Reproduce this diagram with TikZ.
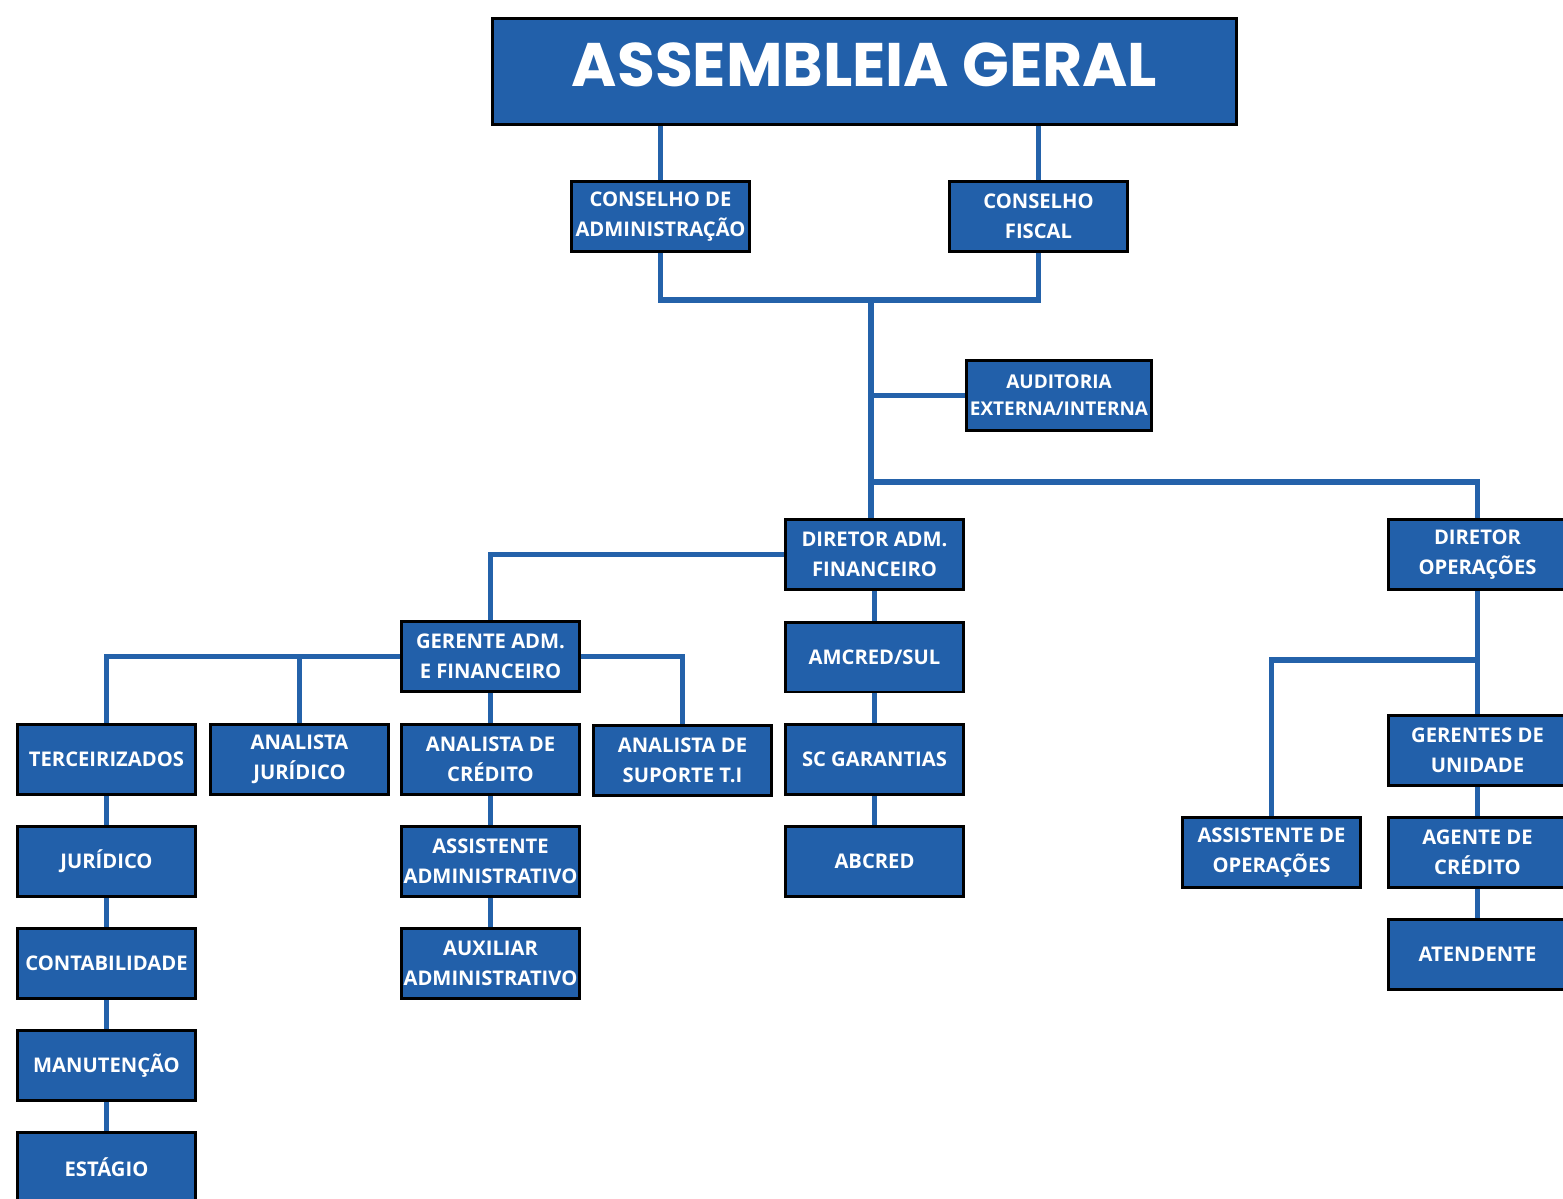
\documentclass[tikz,border=0pt]{standalone}
\usepackage{fontspec}
\setmainfont{Open Sans}
\newfontfamily\titlefont{Poppins}
\usetikzlibrary{positioning,backgrounds}
\definecolor{boxblue}{RGB}{34,96,170}
\definecolor{lineblue}{RGB}{36,98,170}

\begin{document}
\begin{tikzpicture}[x=0.02cm,y=-0.02cm,
    unit/.style={draw=black,line width=1.7pt,fill=boxblue,text=white,align=center,
        font=\bfseries\fontsize{11.5}{16.8}\selectfont,
        minimum width=3.56cm,minimum height=1.40cm,inner sep=1pt},
    link/.style={lineblue,line width=3.4pt}]
    \useasboundingbox (0,0) rectangle (1563,1199);

    % top
    \node[unit,minimum width=14.88cm,minimum height=2.12cm,text depth=8pt,
          font=\titlefont\bfseries\fontsize{35}{40}\selectfont] (asm) at (864.5,71.5) {ASSEMBLEIA GERAL};
    \node[unit] (ca) at (660.5,216.5) {CONSELHO DE\\ADMINISTRAÇÃO};
    \node[unit] (cf) at (1038.5,216.5) {CONSELHO\\FISCAL};
    \node[unit,minimum width=3.70cm,font=\bfseries\fontsize{10.8}{15.5}\selectfont] (aud) at (1059,395.5) {AUDITORIA\\EXTERNA/INTERNA};

    % directors
    \node[unit] (daf) at (874.5,554.5) {DIRETOR ADM.\\FINANCEIRO};
    \node[unit] (dop) at (1477.5,554.5) {DIRETOR\\OPERAÇÕES};

    % adm. side
    \node[unit] (gaf) at (490.5,656.5) {GERENTE ADM.\\E FINANCEIRO};
    \node[unit] (amc) at (874.5,657) {AMCRED/SUL};
    \node[unit] (ter) at (106.5,759.5) {TERCEIRIZADOS};
    \node[unit] (aj)  at (299.5,759.5) {ANALISTA\\JURÍDICO};
    \node[unit] (acr) at (490.5,759.5) {ANALISTA DE\\CRÉDITO};
    \node[unit] (ast) at (682.5,760.5) {ANALISTA DE\\SUPORTE T.I};
    \node[unit] (scg) at (874.5,759.5) {SC GARANTIAS};
    \node[unit] (jur) at (106.5,861.5) {JURÍDICO};
    \node[unit] (asa) at (490.5,861.5) {ASSISTENTE\\ADMINISTRATIVO};
    \node[unit] (abc) at (874.5,861.5) {ABCRED};
    \node[unit] (con) at (106.5,963.5) {CONTABILIDADE};
    \node[unit] (aux) at (490.5,963.5) {AUXILIAR\\ADMINISTRATIVO};
    \node[unit] (man) at (106.5,1065.5) {MANUTENÇÃO};
    \node[unit] (est) at (106.5,1167.5) {ESTÁGIO};

    % operations side
    \node[unit] (gu)  at (1477.5,750.5) {GERENTES DE\\UNIDADE};
    \node[unit] (aso) at (1271.5,852.5) {ASSISTENTE DE\\OPERAÇÕES};
    \node[unit] (agc) at (1477.5,852.5) {AGENTE DE\\CRÉDITO};
    \node[unit] (ate) at (1477.5,954.5) {ATENDENTE};

    \coordinate (hub) at (871,300);
    \coordinate (jop) at (871,482);
    \coordinate (jas) at (1477.5,660);

    \begin{scope}[on background layer]
        \draw[link] (asm.south -| ca.north) -- (ca.north);
        \draw[link] (asm.south -| cf.north) -- (cf.north);
        \draw[link] (ca.south) |- (hub) -| (cf.south);
        \draw[link] (hub) -- (hub |- daf.north);
        \draw[link] (hub |- aud.west) -- (aud.west);
        \draw[link] (jop) -| (dop.north);

        \draw[link] (daf.west) -| (gaf.north);
        \draw[link] (gaf.west) -| (ter.north);
        \draw[link] (gaf.west -| aj.north) -- (aj.north);
        \draw[link] (gaf.east) -| (ast.north);
        \draw[link] (gaf.south) -- (acr.north) (acr.south) -- (asa.north) (asa.south) -- (aux.north);
        \draw[link] (ter.south) -- (jur.north) (jur.south) -- (con.north)
                    (con.south) -- (man.north) (man.south) -- (est.north);
        \draw[link] (daf.south) -- (amc.north) (amc.south) -- (scg.north) (scg.south) -- (abc.north);

        \draw[link] (dop.south) -- (gu.north);
        \draw[link] (jas) -| (aso.north);
        \draw[link] (gu.south) -- (agc.north) (agc.south) -- (ate.north);
    \end{scope}
\end{tikzpicture}
\end{document}
